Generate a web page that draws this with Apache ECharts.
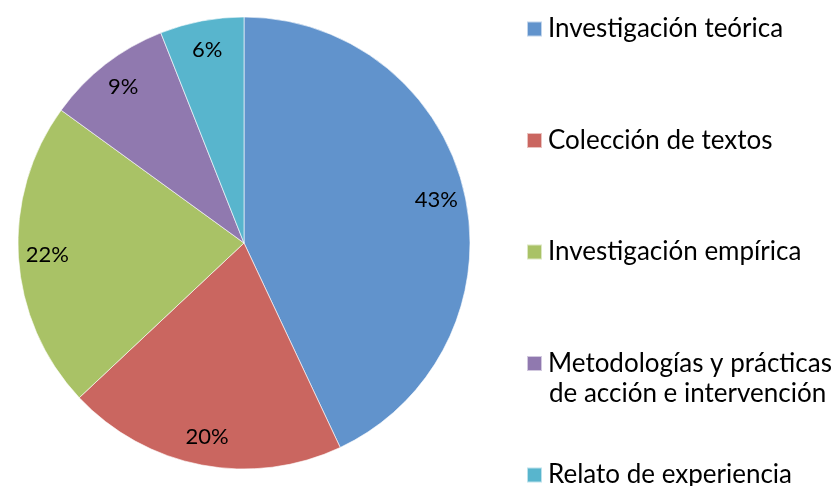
<!DOCTYPE html>
<html>
<head>
<meta charset="utf-8">
<script src="https://cdn.jsdelivr.net/npm/echarts@6/dist/echarts.min.js"></script>
<style>
html,body{margin:0;padding:0;background:#fff;}
#chart{width:833px;height:486px;}
</style>
</head>
<body>
<div id="chart"></div>
<script>
const categories = ['Investigación teórica', 'Colección de textos', 'Investigación empírica', 'Metodologías y prácticas', 'Relato de experiencia'];
const values = [43, 20, 22, 9, 6];
const colors = ['#6193CC', '#CA6660', '#A9C266', '#9079AF', '#58B5CD'];
const legendExtraLine = 'de acción e intervención';

const FONT = 'Lato';
const data = categories.map((c, i) => ({ name: c, value: values[i] }));

const legends = categories.map((c, i) => ({
  orient: 'vertical',
  left: 526,
  top: 16 + i * 111.5,
  padding: 0,
  itemWidth: 15,
  itemHeight: 15,
  icon: 'rect',
  textStyle: { fontFamily: FONT, fontSize: 26, color: '#000', padding: [0, 0, 0, 1] },
  data: [c]
}));

const chart = echarts.init(document.getElementById('chart'), null, { renderer: 'canvas' });
chart.setOption({
  animation: false,
  color: colors,
  legend: legends,
  graphic: [{
    type: 'text',
    left: 549,
    top: 381,
    style: { text: legendExtraLine, font: '26px ' + FONT, fill: '#000' }
  }],
  series: [
    {
      type: 'pie',
      center: [244, 243],
      radius: 226,
      startAngle: 90,
      clockwise: true,
      label: { show: false },
      labelLine: { show: false },
      itemStyle: { borderColor: 'rgba(255,255,255,0.6)', borderWidth: 1 },
      emphasis: { disabled: true },
      data: data
    },
    {
      type: 'pie',
      center: [244, 243],
      radius: [168, 220],
      startAngle: 90,
      clockwise: true,
      silent: true,
      legendHoverLink: false,
      itemStyle: { color: 'transparent' },
      label: { show: true, position: 'inside', formatter: '{c}%', fontFamily: FONT, fontSize: 22, color: '#000' },
      labelLine: { show: false },
      emphasis: { disabled: true },
      data: data
    }
  ]
});
</script>
</body>
</html>
